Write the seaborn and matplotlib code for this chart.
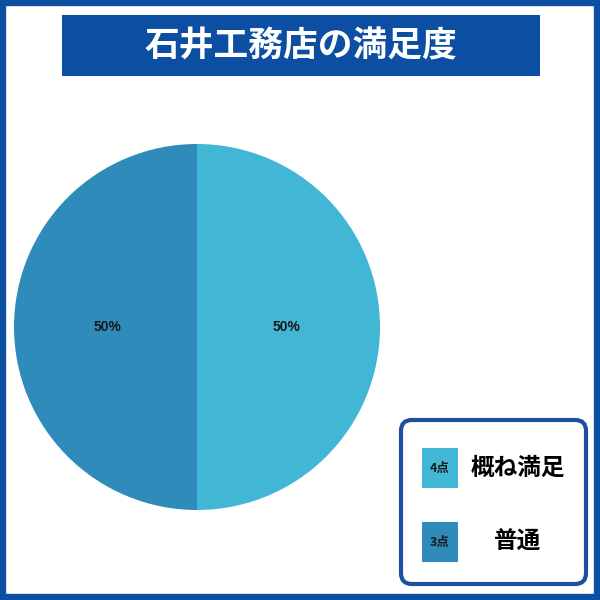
import matplotlib
matplotlib.use("Agg")
import matplotlib.pyplot as plt
import seaborn as sns
from matplotlib.patches import FancyBboxPatch, Rectangle

# data
title = "石井工務店の満足度"
labels = ["概ね満足", "普通"]
scores = ["4点", "3点"]
shares = [50, 50]
colors = ["#42b6d5", "#2f8bb9"]

sns.set_theme(style="white")
plt.rcParams['font.family'] = ['Noto Sans CJK JP', 'DejaVu Sans']

fig = plt.figure(figsize=(6, 6), dpi=100)
fig.patch.set_facecolor("white")

# outer border
fig.add_artist(Rectangle((0.004, 0.004), 0.992, 0.992, transform=fig.transFigure,
                         fill=False, edgecolor="#0b4ea2", linewidth=6))

# title box
fig.add_artist(Rectangle((62/600, 1-76/600), 478/600, 61/600, transform=fig.transFigure,
                         facecolor="#0b4ea2", edgecolor="none"))
fig.text(301/600, 1-46/600, title, color="white", fontsize=25, fontweight="bold",
         ha="center", va="center")

# pie
r = 183/600
cx, cy = 197/600, 1-327/600
ax = fig.add_axes([cx-r, cy-r, 2*r, 2*r])
ax.pie(shares, colors=colors, startangle=90, counterclock=False,
       autopct='%1.0f%%', pctdistance=0.49,
       wedgeprops={'edgecolor': 'none', 'linewidth': 0},
       textprops={'fontsize': 10, 'color': '#1a1a1a', 'family': 'Liberation Sans',
                  'fontweight': 'bold'})
ax.set_xlim(-1, 1)
ax.set_ylim(-1, 1)
ax.set_aspect('equal')
ax.axis('off')

# legend box
fig.add_artist(FancyBboxPatch((401/600, 1-584/600), 185/600, 164/600,
                              boxstyle="round,pad=0,rounding_size=0.018",
                              transform=fig.transFigure, facecolor="white",
                              edgecolor="#1d4fa0", linewidth=3))
ys = [468, 542]
for i in range(len(labels)):
    y = 1-ys[i]/600
    fig.add_artist(Rectangle((422/600, y-20/600), 36/600, 40/600, transform=fig.transFigure,
                             facecolor=colors[i], edgecolor="none"))
    fig.text(440/600, y, scores[i], fontsize=9, fontweight="bold", color="#1a1a1a",
             ha="center", va="center")
    fig.text(518/600, y, labels[i], fontsize=17, fontweight="bold", color="black",
             ha="center", va="center")

fig.savefig("out.png", dpi=100)
